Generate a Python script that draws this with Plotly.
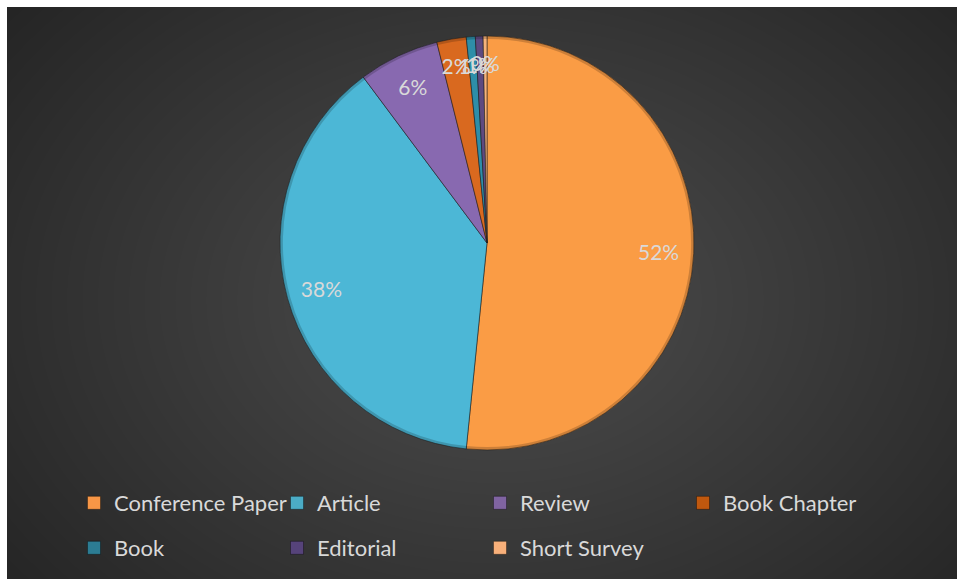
import base64
import struct
import zlib

import numpy as np
import plotly.graph_objects as go

# Publication types and their share of the corpus (percent)
categories = ["Conference Paper", "Article", "Review", "Book Chapter",
              "Book", "Editorial", "Short Survey"]
shares = [51.6, 38.2, 6.3, 2.3, 0.7, 0.6, 0.3]

slice_colors = ["#FA9C45", "#4CB7D6", "#8869B0", "#D9691F",
                "#2E8EA8", "#5E4A80", "#F6B27A"]
legend_colors = ["#F79646", "#4BACC6", "#8064A2", "#C0580E",
                 "#2C7C93", "#56437A", "#F8B07A"]

W, H = 957, 579
BORDER = 7
TEXT = "#D9D9D9"
FONT = "Lato"
PCT = "%{percent:.0%}"


def gradient_png(w, h, x0, y0):
    """Dark radial backdrop, lighter toward the middle of the chart."""
    ys, xs = np.mgrid[0:h, 0:w].astype(float)
    xs += x0
    ys += y0
    cx, cy, ax, ay = 500.0, 300.0, 650.0, 480.0
    t = np.sqrt(((xs - cx) / ax) ** 2 + ((ys - cy) / ay) ** 2)
    t = np.clip(t, 0, 1)
    inner, outer = 78.0, 36.0
    g = (inner + (outer - inner) * t).astype(np.uint8)
    rgb = np.stack([g, g, g], axis=-1)
    raw = b"".join(b"\x00" + rgb[r].tobytes() for r in range(h))

    def chunk(tag, data):
        c = struct.pack(">I", len(data)) + tag + data
        return c + struct.pack(">I", zlib.crc32(tag + data) & 0xFFFFFFFF)

    png = (b"\x89PNG\r\n\x1a\n"
           + chunk(b"IHDR", struct.pack(">IIBBBBB", w, h, 8, 2, 0, 0, 0))
           + chunk(b"IDAT", zlib.compress(raw, 9))
           + chunk(b"IEND", b""))
    return "data:image/png;base64," + base64.b64encode(png).decode()


cx_px, cy_px, r_px = 487, 243, 207


def domain_for(radius):
    return dict(x=[(cx_px - radius) / W, (cx_px + radius) / W],
                y=[1 - (cy_px + radius) / H, 1 - (cy_px - radius) / H])


pie_common = dict(labels=categories, values=shares, sort=False,
                  direction="clockwise", rotation=0, showlegend=False)
clear = ["rgba(0,0,0,0)"] * len(categories)

fig = go.Figure()

# Filled pie: clockwise from 12 o'clock, in category order
fig.add_trace(go.Pie(
    **pie_common,
    marker=dict(colors=slice_colors,
                line=dict(color="rgba(30,30,30,0.55)", width=1)),
    textinfo="none",
    domain=domain_for(r_px),
    hoverinfo="label+percent",
))

# Slightly darker rim around the edge
fig.add_trace(go.Pie(
    **pie_common,
    hole=0.986,
    marker=dict(colors=["rgba(0,0,0,0.18)"] * len(categories),
                line=dict(width=0)),
    textinfo="none",
    domain=domain_for(r_px),
    hoverinfo="skip",
))


def label_layer(radius, show, hole=0.0):
    """Transparent copy of the slices that carries percent labels."""
    return go.Pie(
        **pie_common,
        hole=hole,
        marker=dict(colors=clear, line=dict(width=0)),
        texttemplate=[PCT if s else "" for s in show],
        textposition="inside",
        insidetextorientation="horizontal",
        textfont=dict(family=FONT, size=21, color=TEXT),
        domain=domain_for(radius),
        hoverinfo="skip",
    )


# Large slices: labels out toward the rim
fig.add_trace(label_layer(r_px, [1, 1, 1, 0, 0, 0, 0], hole=0.66))
# Thin slices at the top: labels bunched just inside the rim
fig.add_trace(label_layer(193, [0, 0, 0, 1, 0, 0, 0]))
fig.add_trace(label_layer(182, [0, 0, 0, 0, 1, 1, 1]))

# Legend entries: two rows, four columns
for i, (name, col) in enumerate(zip(categories, legend_colors)):
    fig.add_trace(go.Scatter(
        x=[None], y=[None], mode="markers", name=name,
        marker=dict(symbol="square", size=13, color=col,
                    line=dict(color="rgba(0,0,0,0.35)", width=1)),
        legend="legend" if i < 4 else "legend2",
        hoverinfo="skip",
    ))

legend_common = dict(
    orientation="h",
    xanchor="left",
    yanchor="middle",
    x=74 / W,
    bgcolor="rgba(0,0,0,0)",
    font=dict(family=FONT, size=22, color=TEXT),
    entrywidth=158,
    entrywidthmode="pixels",
    itemclick=False,
    itemdoubleclick=False,
)

fig.update_layout(
    width=W,
    height=H,
    margin=dict(l=0, r=0, t=0, b=0),
    paper_bgcolor="#FFFFFF",
    plot_bgcolor="rgba(0,0,0,0)",
    xaxis=dict(visible=False),
    yaxis=dict(visible=False),
    uniformtext=dict(minsize=21, mode="show"),
    legend=dict(legend_common, y=1 - 503 / H),
    legend2=dict(legend_common, y=1 - 548 / H),
    images=[dict(
        source=gradient_png(W - BORDER, H - BORDER, BORDER, BORDER),
        xref="paper", yref="paper",
        x=BORDER / W, y=1 - BORDER / H,
        sizex=(W - BORDER) / W, sizey=(H - BORDER) / H,
        xanchor="left", yanchor="top",
        sizing="stretch", layer="below",
    )],
)

fig.write_html("out.html")
